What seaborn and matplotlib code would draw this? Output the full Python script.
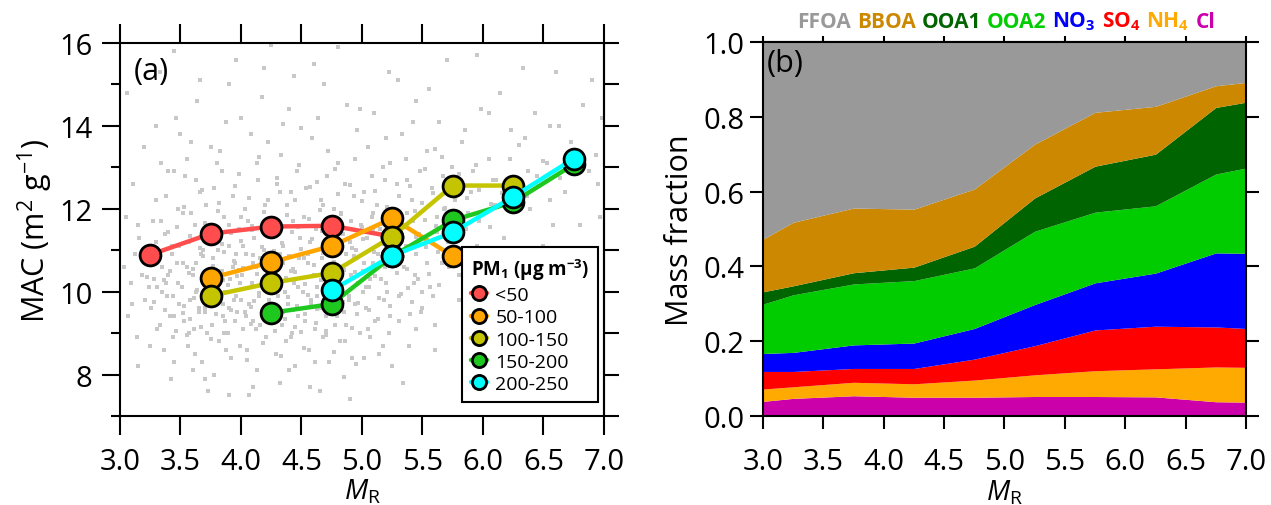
import numpy as np
import pandas as pd
import matplotlib
matplotlib.use('Agg')
import matplotlib.pyplot as plt
import seaborn as sns
from matplotlib.ticker import MultipleLocator, NullFormatter

# ---------------- data: panel (a) ----------------
mr_bins = [3.25, 3.75, 4.25, 4.75, 5.25, 5.75, 6.25, 6.75]
nan = np.nan
mac_lt50 = [10.89, 11.40, 11.57, 11.59, 11.33, nan, nan, nan]
mac_50_100 = [nan, 10.33, 10.71, 11.10, 11.77, 10.86, nan, nan]
mac_100_150 = [nan, 9.90, 10.21, 10.45, 11.33, 12.56, 12.56, nan]
mac_150_200 = [nan, nan, 9.49, 9.70, 10.85, 11.72, 12.16, 13.07]
mac_200_250 = [nan, nan, nan, 10.03, 10.87, 11.43, 12.29, 13.21]
pm_labels = ['<50', '50-100', '100-150', '150-200', '200-250']
pm_colors = ['#ff4d4d', '#ffa500', '#c4c400', '#1ec81e', '#00ffff']

# background cloud of individual samples (hand-estimated from the picture)
cloud_outer = [
 (3.03,10.6),(3.05,11.8),(3.07,9.4),(3.09,10.2),(3.11,12.6),(3.12,10.9),(3.14,8.9),(3.16,11.3),(3.18,10.4),(3.2,13.5),(3.21,9.8),(3.23,11.0),(3.24,10.1),(3.06,14.8),(3.15,8.2),
 (3.26,9.6),(3.27,11.7),(3.28,10.3),(3.3,12.2),(3.31,9.1),(3.32,10.8),(3.34,13.1),(3.35,10.0),(3.36,8.6),(3.37,11.4),(3.39,9.9),(3.4,12.9),(3.41,10.5),(3.42,7.9),(3.43,11.1),(3.45,9.4),(3.46,14.2),(3.47,10.7),(3.48,12.0),(3.49,9.7),(3.33,15.3),(3.44,8.9),(3.38,10.2),
 (3.51,10.1),(3.52,11.9),(3.53,9.3),(3.54,12.8),(3.55,10.6),(3.56,8.7),(3.57,11.2),(3.58,9.8),(3.59,13.6),(3.6,10.4),(3.61,9.1),(3.62,11.6),(3.63,10.0),(3.64,14.6),(3.65,9.6),(3.66,12.4),(3.67,10.9),(3.68,8.3),(3.69,11.0),(3.7,9.5),(3.71,12.1),(3.72,10.3),(3.73,7.6),(3.74,11.4),(3.57,9.0),(3.63,10.7),(3.69,9.9),(3.55,13.2),(3.66,15.1),(3.6,8.1),
 (3.76,9.2),(3.77,10.8),(3.78,12.5),(3.79,9.7),(3.8,11.3),(3.81,10.1),(3.82,8.8),(3.83,13.4),(3.84,10.5),(3.85,9.4),(3.86,11.8),(3.87,10.0),(3.88,14.1),(3.89,9.0),(3.9,11.1),(3.91,10.3),(3.92,8.4),(3.93,12.3),(3.94,9.8),(3.95,10.7),(3.96,15.6),(3.97,9.5),(3.98,11.5),(3.99,10.2),(3.78,8.0),(3.84,12.9),(3.9,9.6),(3.96,10.9),(3.81,11.0),(3.87,9.3),(3.93,10.6),(3.99,8.7),
 (4.01,10.4),(4.02,9.1),(4.03,12.0),(4.04,10.9),(4.05,8.6),(4.06,11.7),(4.07,9.7),(4.08,13.8),(4.09,10.2),(4.1,9.3),(4.11,11.3),(4.12,10.6),(4.13,8.1),(4.14,12.7),(4.15,9.9),(4.16,10.8),(4.17,14.7),(4.18,9.5),(4.19,11.0),(4.2,10.1),(4.21,8.9),(4.22,12.2),(4.23,9.8),(4.24,11.6),(4.04,9.4),(4.1,10.7),(4.16,9.2),(4.22,10.4),(4.07,7.5),(4.13,13.1),(4.19,15.4),(4.02,11.1),
 (4.26,9.6),(4.27,11.4),(4.28,10.3),(4.29,8.5),(4.3,12.6),(4.31,9.9),(4.32,10.9),(4.33,13.3),(4.34,9.2),(4.35,11.1),(4.36,10.0),(4.37,8.8),(4.38,12.1),(4.39,9.7),(4.4,14.4),(4.41,10.5),(4.42,9.0),(4.43,11.7),(4.44,10.2),(4.45,8.2),(4.46,12.9),(4.47,9.4),(4.48,10.8),(4.49,11.3),(4.29,10.6),(4.35,9.5),(4.41,12.4),(4.47,10.1),(4.32,7.8),(4.44,15.2),
 (4.51,10.0),(4.52,11.8),(4.53,9.3),(4.54,12.5),(4.55,10.7),(4.56,8.6),(4.57,11.2),(4.58,9.8),(4.59,13.7),(4.6,10.4),(4.61,9.1),(4.62,11.5),(4.63,10.1),(4.64,14.2),(4.65,9.6),(4.66,12.2),(4.67,10.8),(4.68,8.9),(4.69,11.0),(4.7,9.4),(4.71,12.8),(4.72,10.5),(4.73,8.3),(4.74,11.6),(4.57,7.7),(4.63,9.9),(4.69,15.0),(4.55,10.9),
 (4.76,10.3),(4.77,12.0),(4.78,9.2),(4.79,11.4),(4.8,13.1),(4.81,10.0),(4.82,8.8),(4.83,11.9),(4.84,10.6),(4.85,9.5),(4.86,12.6),(4.87,10.9),(4.88,14.5),(4.89,9.8),(4.9,11.2),(4.91,10.4),(4.92,8.4),(4.93,12.3),(4.94,9.7),(4.95,11.0),(4.96,13.9),(4.97,10.2),(4.98,9.0),(4.99,11.6),(4.8,15.9),(4.9,7.4),
 (5.01,10.5),(5.02,12.4),(5.03,9.6),(5.04,11.3),(5.05,13.5),(5.06,10.1),(5.07,8.9),(5.08,11.8),(5.09,10.7),(5.1,14.3),(5.11,9.3),(5.12,12.1),(5.13,10.9),(5.14,8.5),(5.15,11.5),(5.16,10.3),(5.17,13.0),(5.18,9.8),(5.19,12.7),(5.2,11.1),(5.21,10.0),(5.22,15.3),(5.23,9.4),(5.24,11.7),
 (5.27,11.0),(5.29,12.6),(5.31,9.9),(5.33,13.8),(5.35,10.6),(5.37,11.9),(5.39,8.7),(5.41,12.2),(5.43,10.2),(5.45,14.6),(5.47,11.4),(5.49,9.5),(5.3,10.9),(5.36,13.2),(5.42,11.7),(5.48,12.9),(5.34,7.8),(5.44,10.4),
 (5.52,11.3),(5.54,13.4),(5.56,10.1),(5.58,12.5),(5.6,9.2),(5.62,11.8),(5.64,14.1),(5.66,10.7),(5.68,12.0),(5.7,15.6),(5.72,11.0),(5.74,13.0),(5.59,9.9),(5.67,12.8),
 (5.77,12.2),(5.8,10.4),(5.83,13.6),(5.86,11.5),(5.89,9.3),(5.92,12.9),(5.95,11.1),(5.98,14.4),(5.84,10.8),(5.9,12.4),(5.96,8.9),
 (6.02,11.9),(6.05,13.2),(6.08,10.6),(6.11,12.7),(6.14,14.8),(6.17,11.3),(6.2,9.7),(6.23,13.9),(6.1,12.1),
 (6.27,12.5),(6.31,11.0),(6.35,13.7),(6.39,12.0),(6.43,14.3),(6.47,10.3),(6.33,15.4),(6.45,12.8),
 (6.53,13.1),(6.58,11.6),(6.63,14.0),(6.68,12.4),(6.73,13.6),(6.78,10.9),(6.83,14.5),(6.88,12.9),(6.93,13.3),(6.97,11.8),(6.6,9.5),(6.9,15.1),
]
cloud_core = [
 (3.62,8.5),(3.88,8.6),(4.05,8.35),(4.18,8.75),(4.33,8.45),(4.52,8.65),(4.61,8.3),(4.77,8.55),(4.86,8.8),(5.02,8.4),(5.17,8.7),(3.75,8.85),(4.41,8.9),(4.95,8.25),(3.55,8.95),(4.7,8.95),
 (3.33,9.2),(3.46,9.05),(3.58,9.35),(3.67,9.15),(3.79,9.45),(3.86,9.0),(3.95,9.3),(4.03,9.5),(4.12,9.1),(4.2,9.4),(4.28,9.05),(4.36,9.35),(4.45,9.15),(4.53,9.45),(4.62,9.25),(4.7,9.05),(4.79,9.4),(4.87,9.2),(4.96,9.45),(5.05,9.1),(5.13,9.35),(5.22,9.0),(5.31,9.3),(3.52,9.48),(3.72,9.0),(4.08,9.22),(4.5,9.02),(4.92,9.12),(5.4,9.45),(3.41,9.4),
 (3.28,9.75),(3.37,9.55),(3.44,9.9),(3.53,9.65),(3.61,9.85),(3.7,9.6),(3.77,9.95),(3.85,9.7),(3.92,9.55),(4.0,9.8),(4.08,9.62),(4.15,9.97),(4.24,9.7),(4.31,9.52),(4.39,9.88),(4.46,9.66),(4.55,9.93),(4.63,9.58),(4.72,9.82),(4.8,9.6),(4.89,9.9),(4.97,9.72),(5.06,9.55),(5.14,9.85),(5.23,9.66),(5.32,9.95),(5.41,9.75),(5.5,9.6),(3.65,9.52),(4.11,9.78),(4.58,9.7),(5.01,9.98),(3.96,9.9),(4.43,9.55),(4.84,9.76),
 (3.22,10.35),(3.31,10.1),(3.4,10.4),(3.48,10.2),(3.57,10.45),(3.64,10.05),(3.73,10.3),(3.81,10.5),(3.89,10.15),(3.97,10.38),(4.06,10.08),(4.13,10.42),(4.21,10.25),(4.3,10.02),(4.37,10.33),(4.45,10.48),(4.53,10.18),(4.61,10.4),(4.7,10.1),(4.78,10.35),(4.86,10.22),(4.94,10.47),(5.03,10.12),(5.11,10.37),(5.2,10.2),(5.29,10.45),(5.38,10.08),(5.46,10.3),(5.55,10.42),(5.64,10.15),(3.36,10.28),(3.85,10.27),(4.26,10.45),(4.66,10.27),(5.07,10.3),(5.5,10.0),
 (3.26,10.8),(3.35,10.6),(3.43,10.9),(3.52,10.7),(3.6,10.55),(3.69,10.85),(3.77,10.62),(3.86,10.95),(3.94,10.75),(4.02,10.58),(4.1,10.88),(4.19,10.66),(4.27,10.97),(4.35,10.7),(4.43,10.55),(4.52,10.82),(4.6,10.64),(4.68,10.93),(4.77,10.72),(4.85,10.52),(4.93,10.86),(5.02,10.68),(5.1,10.96),(5.19,10.6),(5.28,10.78),(5.37,10.55),(5.45,10.9),(5.54,10.7),(5.63,10.95),(5.72,10.6),(3.98,10.52),(4.4,10.86),(4.81,10.94),(5.24,10.9),
 (3.3,11.2),(3.4,11.45),(3.49,11.1),(3.58,11.35),(3.66,11.05),(3.75,11.3),(3.84,11.15),(3.92,11.42),(4.0,11.22),(4.09,11.48),(4.17,11.08),(4.25,11.33),(4.34,11.18),(4.42,11.44),(4.5,11.02),(4.59,11.28),(4.67,11.46),(4.76,11.12),(4.84,11.38),(4.92,11.05),(5.01,11.26),(5.09,11.47),(5.18,11.15),(5.27,11.4),(5.36,11.1),(5.45,11.32),(5.53,11.08),(5.62,11.45),(5.71,11.2),(5.8,11.4),(5.9,11.05),
 (3.34,11.7),(3.47,11.55),(3.59,11.9),(3.7,11.65),(3.81,11.95),(3.9,11.6),(4.0,11.8),(4.09,11.58),(4.19,11.92),(4.28,11.68),(4.38,11.85),(4.47,11.55),(4.56,11.75),(4.65,11.98),(4.74,11.62),(4.83,11.88),(4.91,11.7),(5.0,11.55),(5.09,11.9),(5.17,11.64),(5.26,11.82),(5.35,11.58),(5.44,11.95),(5.52,11.72),(5.61,11.58),(5.7,11.85),(5.79,11.62),(5.88,11.9),(5.97,11.7),(6.06,11.55),
 (3.38,12.3),(3.53,12.05),(3.68,12.45),(3.82,12.15),(3.95,12.55),(4.07,12.25),(4.2,12.08),(4.32,12.4),(4.45,12.2),(4.57,12.52),(4.68,12.1),(4.8,12.35),(4.9,12.58),(5.0,12.18),(5.11,12.42),(5.21,12.05),(5.31,12.3),(5.4,12.55),(5.5,12.15),(5.59,12.38),(5.69,12.02),(5.78,12.5),(5.87,12.25),(5.97,12.45),(6.07,12.12),(6.16,12.38),(6.26,12.0),(6.36,12.3),(6.46,12.55),(6.55,12.2),
 (3.45,12.9),(3.63,12.7),(3.8,13.1),(3.98,12.85),(4.15,13.25),(4.3,12.75),(4.48,13.05),(4.63,12.65),(4.78,12.95),(4.94,13.2),(5.08,12.8),(5.23,13.1),(5.37,12.7),(5.52,12.95),(5.66,13.25),(5.8,12.85),(5.94,13.05),(6.08,12.7),(6.22,13.2),(6.37,12.9),(6.5,13.15),(6.64,12.75),(6.8,13.0),(6.95,12.6),
 (3.5,13.8),(3.75,13.5),(4.0,14.2),(4.22,13.6),(4.5,13.95),(4.72,13.4),(4.98,14.4),(5.2,13.7),(5.42,14.1),(5.6,13.45),(5.85,13.9),(6.05,14.3),(6.3,13.55),(6.55,14.0),(6.75,13.4),(6.98,14.2),(3.3,14.0),(4.35,14.05),
 (3.9,15.0),(4.6,15.5),(5.3,15.1),(5.95,15.7),(6.6,15.3),(3.45,15.8),(4.25,15.95),(5.55,14.9),
 (3.45,8.3),(3.7,7.9),(4.1,7.7),(4.4,8.1),(4.85,7.95),(5.25,8.2),(5.6,8.6),(3.25,8.7),(3.9,7.5),(4.65,7.6),(5.45,9.1),(5.8,9.8),(6.2,10.3),(6.5,11.1),(6.8,11.6),(3.1,9.7),(3.15,11.6),
]
cloud_mr = [p[0] for p in cloud_outer + cloud_core]
cloud_mac = [p[1] for p in cloud_outer + cloud_core]

# ---------------- data: panel (b) ----------------
mr_frac = [3.0, 3.25, 3.75, 4.25, 4.75, 5.25, 5.75, 6.25, 6.75, 7.0]
f_cl   = [0.039, 0.047, 0.054, 0.050, 0.050, 0.052, 0.052, 0.051, 0.038, 0.037]
f_nh4  = [0.033, 0.031, 0.036, 0.036, 0.046, 0.058, 0.069, 0.075, 0.093, 0.093]
f_so4  = [0.047, 0.041, 0.037, 0.041, 0.056, 0.078, 0.109, 0.114, 0.107, 0.104]
f_no3  = [0.048, 0.051, 0.063, 0.068, 0.082, 0.110, 0.126, 0.142, 0.198, 0.201]
f_ooa2 = [0.132, 0.154, 0.163, 0.167, 0.162, 0.196, 0.189, 0.180, 0.211, 0.228]
f_ooa1 = [0.033, 0.024, 0.030, 0.036, 0.058, 0.089, 0.123, 0.138, 0.178, 0.176]
f_bboa = [0.141, 0.170, 0.173, 0.155, 0.153, 0.144, 0.144, 0.128, 0.058, 0.053]
f_ffoa = [0.527, 0.482, 0.444, 0.447, 0.393, 0.273, 0.188, 0.172, 0.117, 0.108]
species = ['Cl', 'NH4', 'SO4', 'NO3', 'OOA2', 'OOA1', 'BBOA', 'FFOA']
sp_colors = ['#cc00aa', '#ffaa00', '#ff0000', '#0000ff', '#00cc00', '#006400', '#cc8800', '#999999']

# ---------------- style ----------------
sns.set_theme(style='ticks')
plt.rcParams['font.family'] = ['Open Sans', 'DejaVu Sans']
plt.rcParams['mathtext.fontset'] = 'custom'
plt.rcParams['mathtext.rm'] = 'Open Sans'
plt.rcParams['mathtext.it'] = 'Open Sans:italic'
plt.rcParams['mathtext.bf'] = 'Open Sans:bold'
plt.rcParams['axes.linewidth'] = 1.5
plt.rcParams['axes.edgecolor'] = 'black'
plt.rcParams['text.color'] = 'black'
plt.rcParams['axes.labelcolor'] = 'black'
plt.rcParams['xtick.color'] = 'black'
plt.rcParams['ytick.color'] = 'black'
plt.rcParams['xtick.labelcolor'] = 'black'
plt.rcParams['ytick.labelcolor'] = 'black'

TICK_FS = 21
fig = plt.figure(figsize=(12.71, 5.06), dpi=100)
ax1 = fig.add_axes([0.0944, 0.176, 0.3808, 0.737])
ax2 = fig.add_axes([0.6003, 0.176, 0.3800, 0.739])

# ---------------- panel (a) ----------------
sns.scatterplot(x=cloud_mr, y=cloud_mac, marker='s', s=12, color='#c8c8c8',
                linewidth=0, ax=ax1, zorder=1)

series = [mac_lt50, mac_50_100, mac_100_150, mac_150_200, mac_200_250]
rows = []
for lab, vals in zip(pm_labels, series):
    for x, v in zip(mr_bins, vals):
        if not np.isnan(v):
            rows.append({'MR': x, 'MAC': v, 'PM1': lab})
df = pd.DataFrame(rows)
for i, (lab, col) in enumerate(zip(pm_labels, pm_colors)):
    sub = df[df['PM1'] == lab]
    sns.lineplot(data=sub, x='MR', y='MAC', color=col, marker='o', markersize=15,
                 markeredgecolor='black', markeredgewidth=2, linewidth=3.2,
                 ax=ax1, label=lab, zorder=3 + i)

ax1.set_xlim(3.0, 7.0)
ax1.set_ylim(7, 16)
ax1.xaxis.set_major_locator(MultipleLocator(0.5))
ax1.yaxis.set_major_locator(MultipleLocator(2))
ax1.yaxis.set_minor_locator(MultipleLocator(1))
ax1.set_xticklabels([f'{v:.1f}' for v in ax1.get_xticks()])
ax1.tick_params(axis='x', which='major', direction='out', length=13.5, width=1.5,
                labelsize=TICK_FS, top=True, color='black', pad=9)
ax1.tick_params(axis='y', which='major', direction='out', length=13, width=1.5,
                labelsize=TICK_FS, color='black', right=False, pad=7)
ax1.tick_params(axis='y', which='minor', direction='out', length=6.5, width=1.5,
                color='black', right=False, left=True)
sec1 = ax1.secondary_yaxis('right')
sec1.yaxis.set_major_locator(MultipleLocator(1))
sec1.yaxis.set_major_formatter(NullFormatter())
sec1.tick_params(axis='y', direction='out', length=10.5, width=1.5, color='black')
sec1.spines['right'].set_linewidth(1.5)

ax1.set_xlabel(r'$M_{\mathrm{R}}$', fontsize=20)
ax1.xaxis.set_label_coords(0.5, -0.165)
ax1.set_ylabel(r'MAC (m$^{2}$ g$^{-1}$)', fontsize=22)
ax1.yaxis.set_label_coords(-0.135, 0.5)
ax1.text(0.028, 0.965, '(a)', transform=ax1.transAxes, fontsize=22, va='top', ha='left')

leg = ax1.legend(title=r'PM$_\mathbf{1}$ ($\mathbf{\mu}$g m$^\mathbf{-3}$)', loc='lower right',
                 bbox_to_anchor=(0.988, 0.0375), borderaxespad=0, fontsize=14,
                 title_fontproperties={'weight': 'bold', 'size': 13.5},
                 markerscale=0.68, handlelength=0.8, handletextpad=0.45,
                 labelspacing=0.22, frameon=True, fancybox=False, framealpha=1,
                 borderpad=0.45)
leg.get_frame().set_edgecolor('black')
leg.get_frame().set_linewidth(1.5)
leg._legend_box.align = 'left'

# ---------------- panel (b) ----------------
ax2.stackplot(mr_frac, f_cl, f_nh4, f_so4, f_no3, f_ooa2, f_ooa1, f_bboa, f_ffoa,
              colors=sp_colors, linewidth=0, labels=species)
ax2.set_xlim(3.0, 7.0)
ax2.set_ylim(0, 1.0)
ax2.xaxis.set_major_locator(MultipleLocator(0.5))
ax2.yaxis.set_major_locator(MultipleLocator(0.2))
ax2.set_xticklabels([f'{v:.1f}' for v in ax2.get_xticks()])
ax2.set_yticklabels([f'{v:.1f}' for v in ax2.get_yticks()])
ax2.tick_params(axis='x', which='major', direction='out', length=9.5, width=1.5,
                labelsize=TICK_FS, top=False, color='black', pad=13)
ax2.tick_params(axis='y', which='major', direction='out', length=9.5, width=1.5,
                labelsize=TICK_FS, right=True, color='black', pad=4)
sec2 = ax2.secondary_xaxis('top')
sec2.xaxis.set_major_locator(MultipleLocator(0.5))
sec2.xaxis.set_major_formatter(NullFormatter())
sec2.tick_params(axis='x', direction='out', length=4, width=1.5, color='black')
sec2.spines['top'].set_linewidth(1.5)

ax2.set_xlabel(r'$M_{\mathrm{R}}$', fontsize=20)
ax2.xaxis.set_label_coords(0.5, -0.165)
ax2.set_ylabel('Mass fraction', fontsize=22)
ax2.yaxis.set_label_coords(-0.14, 0.5)
ax2.text(0.008, 0.985, '(b)', transform=ax2.transAxes, fontsize=22, va='top', ha='left')
for sp in ax2.spines.values():
    sp.set_zorder(5)

# colored species header
header = [('FFOA', '#999999'), ('BBOA', '#cc8800'), ('OOA1', '#006400'), ('OOA2', '#00cc00'),
          (r'NO$_\mathbf{3}$', '#0000ff'), (r'SO$_\mathbf{4}$', '#ff0000'),
          (r'NH$_\mathbf{4}$', '#ffaa00'), ('Cl', '#cc00aa')]
renderer = fig.canvas.get_renderer()
xpix = 797
for txt, col in header:
    t = fig.text(xpix / 1271, 1 - 22 / 506, txt, color=col, fontsize=15,
                 fontweight='bold', ha='left', va='center')
    bb = t.get_window_extent(renderer=renderer)
    xpix = bb.x1 + 6

fig.savefig('out.png', dpi=100)
